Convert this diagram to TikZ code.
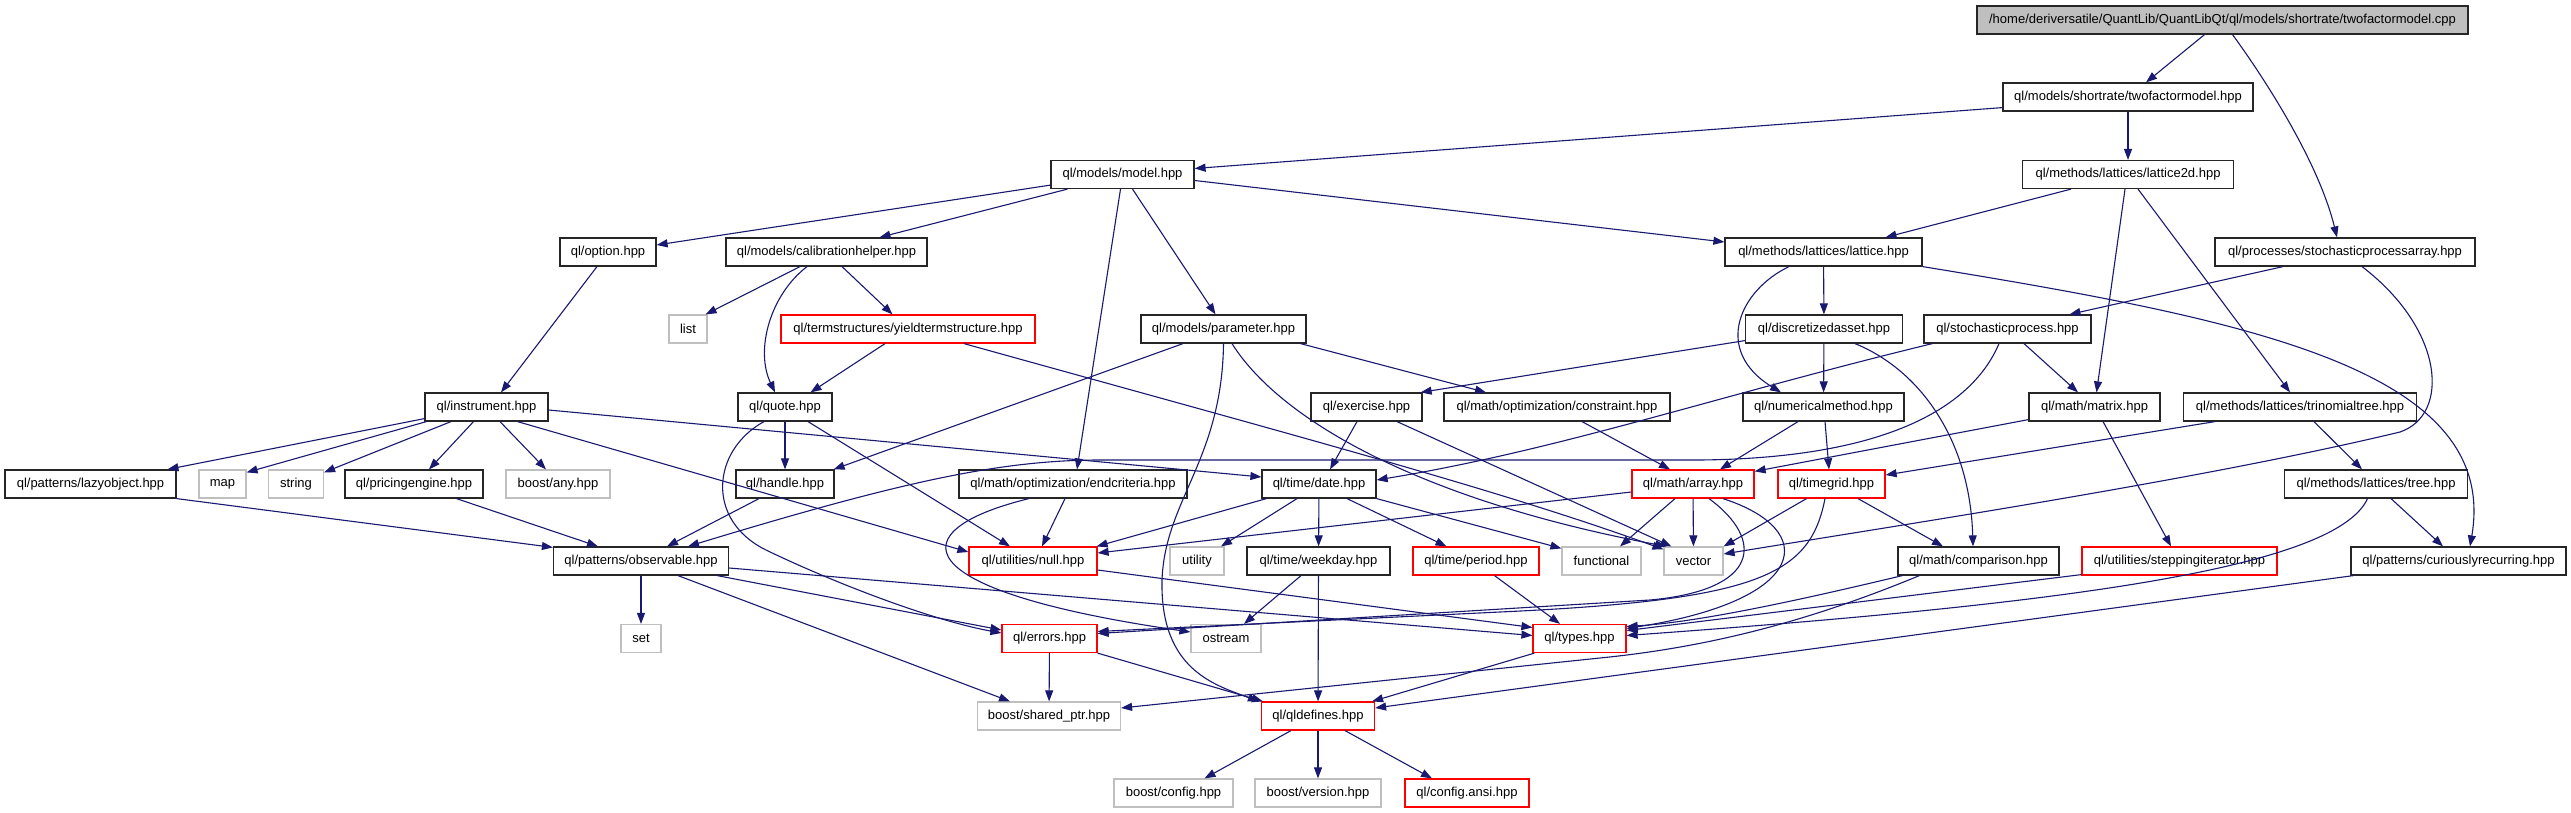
\documentclass[tikz,border=0pt]{standalone}
\usepackage{fontspec}
\setmainfont{Liberation Sans}
\usetikzlibrary{arrows.meta}
\definecolor{edgeblue}{HTML}{191970}
\definecolor{nodegray}{HTML}{BFBFBF}
\newcommand\nfnt{\fontsize{13}{15}\selectfont}
\begin{document}
\begin{tikzpicture}[x=1pt,y=-1pt,
  base/.style={draw, rectangle, inner sep=0pt, minimum height=28pt, font=\nfnt, line width=1.2pt},
  nb/.style={base, draw=black!85},
  nr/.style={base, draw=red},
  ng/.style={base, draw=nodegray},
  nroot/.style={base, draw=black!85, fill=nodegray},
  e/.style={draw=edgeblue, line width=1.1pt, -{Triangle[length=11pt,width=8pt]}}]
\useasboundingbox[fill=white] (0,0) rectangle (2571,813);
% nodes
\node[nroot, minimum width=491pt] (root) at (2222.5,20) {/home/deriversatile/QuantLib/QuantLibQt/ql/models/shortrate/twofactormodel.cpp};
\node[nb, minimum width=250pt] (tfm) at (2128,97) {ql/models/shortrate/twofactormodel.hpp};
\node[nb, minimum width=143pt] (model) at (1122.5,174.5) {ql/models/model.hpp};
\node[nb, minimum width=211pt] (l2d) at (2128,174.5) {ql/methods/lattices/lattice2d.hpp};
\node[nb, minimum width=96pt] (option) at (608,252) {ql/option.hpp};
\node[nb, minimum width=201pt] (calib) at (826.5,252) {ql/models/calibrationhelper.hpp};
\node[nb, minimum width=197pt] (lattice) at (1823.5,252) {ql/methods/lattices/lattice.hpp};
\node[nb, minimum width=260pt] (spa) at (2345,252) {ql/processes/stochasticprocessarray.hpp};
\node[ng, minimum width=38pt] (list) at (688,329) {list};
\node[nr, minimum width=254pt] (yield) at (908,329) {ql/termstructures/yieldtermstructure.hpp};
\node[nb, minimum width=165pt] (param) at (1223.5,329) {ql/models/parameter.hpp};
\node[nb, minimum width=157pt] (disc) at (1824,329) {ql/discretizedasset.hpp};
\node[nb, minimum width=167pt] (sproc) at (2007.5,329) {ql/stochasticprocess.hpp};
\node[nb, minimum width=123pt] (instr) at (486.5,407) {ql/instrument.hpp};
\node[nb, minimum width=94pt] (quote) at (785,407) {ql/quote.hpp};
\node[nb, minimum width=111pt] (exer) at (1366.5,407) {ql/exercise.hpp};
\node[nb, minimum width=226pt] (constr) at (1557,407) {ql/math/optimization/constraint.hpp};
\node[nb, minimum width=161pt] (nummeth) at (1823.5,407) {ql/numericalmethod.hpp};
\node[nb, minimum width=131pt] (matrix) at (2094.5,407) {ql/math/matrix.hpp};
\node[nb, minimum width=233pt] (trin) at (2300,407) {ql/methods/lattices/trinomialtree.hpp};
\node[nb, minimum width=171pt] (lazy) at (90.5,484) {ql/patterns/lazyobject.hpp};
\node[ng, minimum width=47pt] (map) at (222.5,484) {map};
\node[ng, minimum width=55pt] (string) at (296,484) {string};
\node[nb, minimum width=138pt] (pricing) at (414,484) {ql/pricingengine.hpp};
\node[ng, minimum width=104pt] (any) at (558,484) {boost/any.hpp};
\node[nb, minimum width=98pt] (handle) at (785,484) {ql/handle.hpp};
\node[nb, minimum width=228pt] (endcrit) at (1073,484) {ql/math/optimization/endcriteria.hpp};
\node[nb, minimum width=114pt] (date) at (1319,484) {ql/time/date.hpp};
\node[nr, minimum width=122pt] (array) at (1693,484) {ql/math/array.hpp};
\node[nr, minimum width=107pt] (tgrid) at (1831.5,484) {ql/timegrid.hpp};
\node[nb, minimum width=183pt] (tree) at (2376,484) {ql/methods/lattices/tree.hpp};
\node[nb, minimum width=175pt] (obs) at (641,561) {ql/patterns/observable.hpp};
\node[nr, minimum width=128pt] (null) at (1033,561) {ql/utilities/null.hpp};
\node[ng, minimum width=54pt] (utility) at (1197,561) {utility};
\node[nb, minimum width=143pt] (weekday) at (1318.5,561) {ql/time/weekday.hpp};
\node[nr, minimum width=126pt] (period) at (1476,561) {ql/time/period.hpp};
\node[ng, minimum width=79pt] (functional) at (1601.5,561) {functional};
\node[ng, minimum width=59pt] (vector) at (1693.5,561) {vector};
\node[nb, minimum width=161pt] (comp) at (1978.5,561) {ql/math/comparison.hpp};
\node[nr, minimum width=195pt] (stepit) at (2179.5,561) {ql/utilities/steppingiterator.hpp};
\node[nb, minimum width=215pt] (curious) at (2458.5,561) {ql/patterns/curiouslyrecurring.hpp};
\node[ng, minimum width=40pt] (set) at (641,638.5) {set};
\node[nr, minimum width=95pt] (errors) at (1049.5,638.5) {ql/errors.hpp};
\node[ng, minimum width=70pt] (ostream) at (1226,638.5) {ostream};
\node[nr, minimum width=93pt] (types) at (1579.5,638.5) {ql/types.hpp};
\node[ng, minimum width=143pt] (sptr) at (1049,716) {boost/shared\_ptr.hpp};
\node[nr, minimum width=113pt] (qldef) at (1318,716) {ql/qldefines.hpp};
\node[ng, minimum width=119pt] (bconfig) at (1173.5,793) {boost/config.hpp};
\node[ng, minimum width=126pt] (bversion) at (1318,793) {boost/version.hpp};
\node[nr, minimum width=124pt] (cansi) at (1467,793) {ql/config.ansi.hpp};
% edges
\draw[e] ([xshift=-18pt]root.south) -- ([xshift=18pt]tfm.north);
\draw[e] ([xshift=10pt]root.south) .. controls (2262,75) and (2318,160) .. ([xshift=-8pt]spa.north);
\draw[e] ([yshift=4pt]tfm.south west) -- ([yshift=6pt]model.east);
\draw[e] (tfm) -- (l2d);
\draw[e] ([yshift=4pt]model.south west) -- ([yshift=7pt]option.east);
\draw[e] ([xshift=-55pt]model.south) -- ([xshift=53pt]calib.north);
\draw[e] ([xshift=-2pt]model.south) -- ([xshift=4pt]endcrit.north);
\draw[e] ([xshift=10pt]model.south) -- ([xshift=-8pt]param.north);
\draw[e] ([yshift=-6pt]model.east) -- ([yshift=10pt]lattice.west);
\draw[e] ([xshift=-57pt]l2d.south) -- ([xshift=62pt]lattice.north);
\draw[e] ([xshift=-3pt]l2d.south) -- ([xshift=2pt]matrix.north);
\draw[e] ([xshift=10pt]l2d.south) -- ([xshift=-10pt]trin.north);
\draw[e] ([xshift=-62pt]spa.south) -- ([xshift=62pt]sproc.north);
\draw[e] ([xshift=17pt]spa.south) .. controls (2445,330) and (2450,415) .. (2400,432) .. controls (2200,480) and (1900,525) .. ([yshift=7pt]vector.east);
\draw[e] ([xshift=16.5pt]sproc.south) -- ([xshift=-16.5pt]matrix.north);
\draw[e] ([xshift=9pt]sproc.south west) .. controls (1720,395) and (1560,450) .. ([yshift=4pt]date.east);
\draw[e] ([xshift=-8.5pt]sproc.south) .. controls (1975,400) and (1900,458) .. (1700,460) -- (1100,460) .. controls (1000,460) and (900,482) .. ([xshift=47pt]obs.north);
\draw[e] (lattice) -- (disc);
\draw[e] ([xshift=-34.5pt]lattice.south) .. controls (1740,290) and (1712,350) .. ([xshift=-42.5pt]nummeth.north);
\draw[e] (lattice.south east) .. controls (2250,320) and (2500,370) .. ([xshift=11.5pt]curious.north);
\draw[e] ([yshift=3pt]disc.south west) -- ([xshift=-2pt]exer.north east);
\draw[e] (disc) -- (nummeth);
\draw[e] ([xshift=31pt]disc.south) .. controls (1920,370) and (1970,440) .. ([xshift=-5.5pt]comp.north);
\draw[e] ([xshift=-11pt]option.south) -- ([xshift=14.5pt]instr.north);
\draw[e] ([xshift=-26.5pt]calib.south) -- ([xshift=-2pt]list.north east);
\draw[e] ([xshift=-19.5pt]calib.south) .. controls (770,295) and (755,350) .. ([xshift=-10pt]quote.north);
\draw[e] ([xshift=15.5pt]calib.south) -- ([xshift=-15.5pt]yield.north);
\draw[e] ([xshift=-23pt]yield.south) -- ([xshift=25.5pt]quote.north);
\draw[e] ([xshift=56pt]yield.south) .. controls (1300,437) and (1500,490) .. ([yshift=-3pt]vector.north west);
\draw[e] ([xshift=-40.5pt]param.south) -- ([xshift=-1pt]handle.north east);
\draw[e] (param.south) .. controls (1222,460) and (1165,500) .. (1162,580) .. controls (1160,670) and (1215,685) .. ([xshift=-2pt]qldef.north west);
\draw[e] ([xshift=77pt]param.south) -- ([xshift=-71pt]constr.north);
\draw[e] ([xshift=8.5pt]param.south) .. controls (1280,420) and (1420,500) .. ([xshift=3pt]vector.north west);
\draw[e] ([yshift=3pt]instr.south west) -- ([xshift=77pt]lazy.north);
\draw[e] ([xshift=2pt]instr.south west) -- ([yshift=-3pt]map.north east);
\draw[e] ([xshift=-35.5pt]instr.south) -- ([yshift=-3pt]string.north east);
\draw[e] ([xshift=-13pt]instr.south) -- ([xshift=15pt]pricing.north);
\draw[e] ([xshift=13.5pt]instr.south) -- ([xshift=-12pt]any.north);
\draw[e] ([xshift=31pt]instr.south) -- ([yshift=9pt]null.west);
\draw[e] ([yshift=-3pt]instr.east) -- ([yshift=7pt]date.west);
\draw[e] (lazy.south east) -- ([yshift=-1pt]obs.north west);
\draw[e] ([xshift=42.5pt]pricing.south) -- ([xshift=-43pt]obs.north);
\draw[e] (quote) -- (handle);
\draw[e] ([xshift=23pt]quote.south) -- ([xshift=-23pt]null.north);
\draw[e] ([xshift=-21pt]quote.south) .. controls (712,450) and (705,520) .. (766,550) .. controls (830,581) and (930,620) .. ([yshift=5.5pt]errors.west);
\draw[e] ([xshift=-26pt]handle.south) -- ([xshift=26pt]obs.north);
\draw[e] ([xshift=-8pt]endcrit.south) -- ([xshift=9pt]null.north);
\draw[e] ([xshift=-44pt]endcrit.south) .. controls (900,530) and (900,590) .. ([yshift=6.5pt]ostream.west);
\draw[e] ([xshift=5pt]date.south west) -- ([xshift=-1pt]null.north east);
\draw[e] ([xshift=-22pt]date.south) -- ([xshift=24pt]utility.north);
\draw[e] (date) -- (weekday);
\draw[e] ([xshift=28pt]date.south) -- ([xshift=-29.5pt]period.north);
\draw[e] (date.south east) -- ([yshift=-2pt]functional.north west);
\draw[e] ([xshift=-9.5pt]exer.south) -- ([xshift=11pt]date.north);
\draw[e] ([xshift=30.5pt]exer.south) -- ([xshift=8pt]vector.north west);
\draw[e] ([xshift=25pt]constr.south) -- ([xshift=-23pt]array.north);
\draw[e] ([xshift=-25.5pt]nummeth.south) -- ([xshift=27pt]array.north);
\draw[e] ([xshift=1.5pt]nummeth.south) -- ([xshift=-2.5pt]tgrid.north);
\draw[e] ([yshift=2pt]matrix.south west) -- ([yshift=-2pt]array.north east);
\draw[e] ([xshift=8.5pt]matrix.south) -- ([xshift=-8.5pt]stepit.north);
\draw[e] ([xshift=-85pt]trin.south) -- ([yshift=9pt]tgrid.east);
\draw[e] ([xshift=14pt]trin.south) -- ([xshift=-14pt]tree.north);
\draw[e] ([xshift=15pt]tree.south) -- ([xshift=-15.5pt]curious.north);
\draw[e] ([xshift=-8.5pt]tree.south) .. controls (2335,570) and (2050,605) .. ([yshift=3pt]types.east);
\draw[e] ([yshift=1pt]stepit.south west) -- ([yshift=8pt]types.east);
\draw[e] ([xshift=5pt]comp.south west) .. controls (1800,600) and (1700,622) .. ([yshift=12pt]types.east);
\draw[e] ([xshift=22pt]comp.south west) .. controls (1800,625) and (1700,648) .. (1600,658) -- ([yshift=8pt]sptr.east);
\draw[e] ([xshift=-25pt]tgrid.south) -- (vector.north east);
\draw[e] ([xshift=26.5pt]tgrid.south) -- ([xshift=-35.5pt]comp.north);
\draw[e] ([xshift=-6.5pt]tgrid.south) .. controls (1810,575) and (1760,600) .. (1500,612) -- ([yshift=7pt]errors.east);
\draw[e] ([xshift=16pt]array.south) .. controls (1765,540) and (1760,590) .. (1650,600) -- ([yshift=5pt]errors.east);
\draw[e] ([xshift=30pt]array.south) .. controls (1820,530) and (1810,600) .. ([yshift=10pt]types.east);
\draw[e] ([yshift=-8pt]array.west) -- ([yshift=8pt]null.east);
\draw[e] ([xshift=-18pt]array.south) -- ([xshift=18.5pt]functional.north);
\draw[e] (array) -- (vector);
\draw[e] ([yshift=-9pt]null.east) -- ([yshift=11pt]types.west);
\draw[e] ([yshift=-7pt]obs.east) -- ([yshift=3pt]types.west);
\draw[e] ([xshift=18.5pt]period.south) -- ([xshift=-19.5pt]types.north);
\draw[e] (obs) -- (set);
\draw[e] ([xshift=-12pt]obs.south east) -- ([yshift=8.5pt]errors.west);
\draw[e] ([xshift=37pt]obs.south) -- ([xshift=-39pt]sptr.north);
\draw[e] (errors) -- (sptr);
\draw[e] (errors.south east) -- ([xshift=2pt]qldef.north west);
\draw[e] ([xshift=2pt]types.south west) -- ([xshift=-3pt]qldef.north east);
\draw[e] ([xshift=-17.5pt]weekday.south) -- ([xshift=18pt]ostream.north);
\draw[e] (weekday) -- (qldef);
\draw[e] ([xshift=3pt]curious.south west) -- ([yshift=8pt]qldef.east);
\draw[e] ([xshift=-27pt]qldef.south) -- ([xshift=31pt]bconfig.north);
\draw[e] (qldef) -- (bversion);
\draw[e] ([xshift=27pt]qldef.south) -- ([xshift=-35pt]cansi.north);
\end{tikzpicture}
\end{document}
